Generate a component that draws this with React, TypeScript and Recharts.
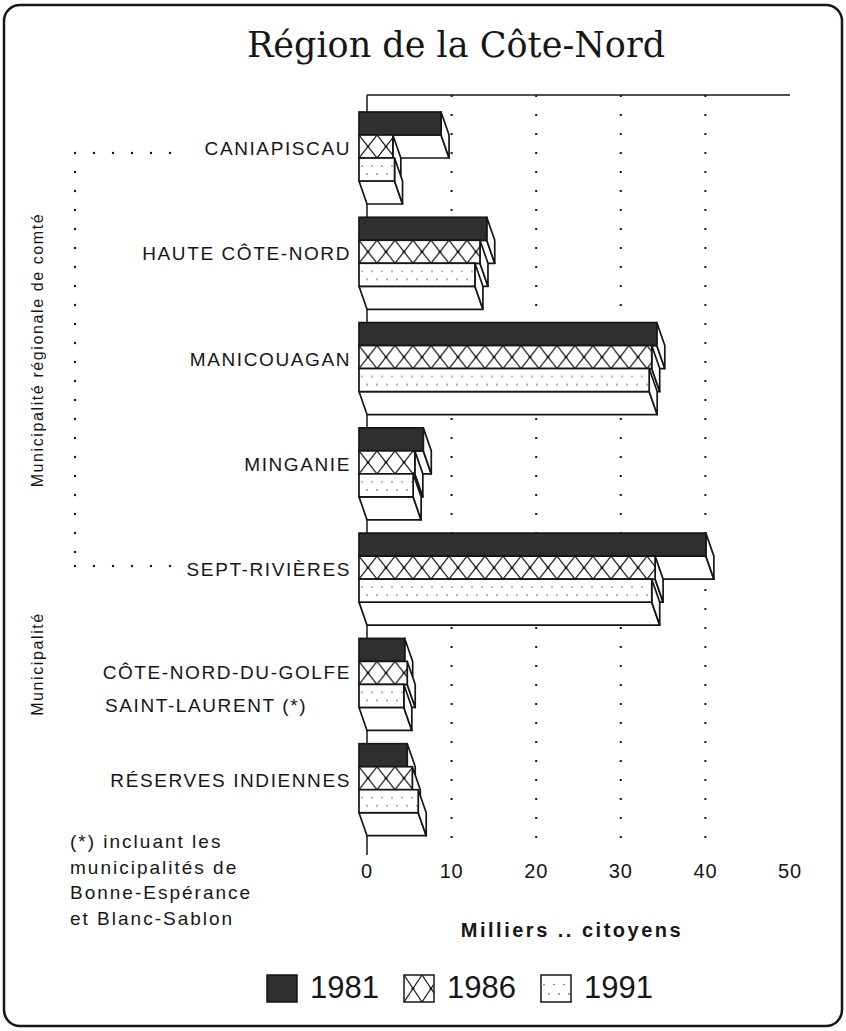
import React from "react";
import { BarChart, Bar, XAxis, YAxis, CartesianGrid } from "recharts";

// Population par MRC / municipalité, en milliers
const categories = [
  "CANIAPISCAU",
  "HAUTE CÔTE-NORD",
  "MANICOUAGAN",
  "MINGANIE",
  "SEPT-RIVIÈRES",
  "CÔTE-NORD-DU-GOLFE\nSAINT-LAURENT (*)",
  "RÉSERVES INDIENNES",
];
const values1981 = [9.7, 15.1, 35.2, 7.6, 41.0, 5.4, 5.7];
const values1986 = [4.0, 14.3, 34.6, 6.6, 35.0, 5.7, 6.3];
const values1991 = [4.2, 13.7, 34.3, 6.4, 34.6, 5.3, 7.0];
const years = ["1981", "1986", "1991"];
const xTicks = [0, 10, 20, 30, 40, 50];
const gridValues = [10, 20, 30, 40];
const footnote = [
  "(*) incluant les",
  "municipalités de",
  "Bonne-Espérance",
  "et Blanc-Sablon",
];

const data = categories.map((name, i) => ({
  name,
  y1981: values1981[i],
  y1986: values1986[i],
  y1991: values1991[i],
}));

const INK = "#161616";
const DARK = "#2f2f2f";
const SANS = '"Liberation Sans", Arial, Helvetica, sans-serif';
// 3D depth of the bars (front face is shifted up-left from the back plane)
const DX = 8;
const DY = 23;

type Kind = "solid" | "cross" | "dots";
const kinds: Kind[] = ["solid", "cross", "dots"];

const patternFor = (kind: Kind, id: string, x: number, y: number, h: number) => {
  if (kind === "cross") {
    return (
      <pattern id={id} x={x} y={y} width={18} height={h} patternUnits="userSpaceOnUse">
        <rect width={18} height={h} fill="#fff" />
        <path d={`M0 0L18 ${h}M18 0L0 ${h}`} stroke={INK} strokeWidth={1.2} />
        <circle cx={9} cy={h / 2} r={1.4} fill={INK} />
        <circle cx={0} cy={h} r={1.3} fill={INK} />
        <circle cx={18} cy={h} r={1.3} fill={INK} />
      </pattern>
    );
  }
  if (kind === "dots") {
    return (
      <pattern id={id} x={x} y={y} width={10} height={h} patternUnits="userSpaceOnUse">
        <rect width={10} height={h} fill="#fff" />
        <circle cx={3} cy={h * 0.35} r={0.8} fill="#555" />
        <circle cx={8} cy={h * 0.7} r={0.8} fill="#555" />
      </pattern>
    );
  }
  return null;
};

const makeBar3D = (kind: Kind) => (props: any) => {
  const { x, y, width, height } = props;
  if (x == null || !width || !height) return <g />;
  const fx = x - DX;
  const fy = y - DY;
  const pid = `pat-${kind}-${Math.round(y)}`;
  const fill = kind === "solid" ? DARK : `url(#${pid})`;
  const w = width;
  const h = height;
  return (
    <g>
      {kind !== "solid" && <defs>{patternFor(kind, pid, fx, fy, h)}</defs>}
      {/* bottom face */}
      <polygon
        points={`${fx},${fy + h} ${fx + w},${fy + h} ${x + w},${y + h} ${x},${y + h}`}
        fill="#fff"
        stroke={INK}
        strokeWidth={1.7}
        strokeLinejoin="round"
      />
      {/* right face */}
      <polygon
        points={`${fx + w},${fy} ${x + w},${y} ${x + w},${y + h} ${fx + w},${fy + h}`}
        fill="#fff"
        stroke={INK}
        strokeWidth={1.7}
        strokeLinejoin="round"
      />
      {/* front face */}
      <rect x={fx} y={fy} width={w} height={h} fill={fill} stroke={INK} strokeWidth={1.7} />
    </g>
  );
};

const CategoryTick = (props: any) => {
  const { x, y, payload } = props;
  const lines = String(payload.value).split("\n");
  const right = x - 8;
  const style = { fontFamily: SANS, fontSize: 19, letterSpacing: "1.6px" };
  if (lines.length === 1) {
    return (
      <text x={right} y={y - 21} textAnchor="end" dominantBaseline="central" fill={INK} style={style}>
        {lines[0]}
      </text>
    );
  }
  return (
    <g>
      <text x={right} y={y - 24} textAnchor="end" dominantBaseline="central" fill={INK} style={style}>
        {lines[0]}
      </text>
      <text x={right - 246} y={y + 9} textAnchor="start" dominantBaseline="central" fill={INK} style={style}>
        {lines[1]}
      </text>
    </g>
  );
};

const ValueTick = (props: any) => {
  const { x, y, payload } = props;
  return (
    <text
      x={x}
      y={y + 8}
      textAnchor="middle"
      dominantBaseline="central"
      fill={INK}
      style={{ fontFamily: SANS, fontSize: 20, letterSpacing: "0.8px" }}
    >
      {payload.value}
    </text>
  );
};

const LegendSwatch = ({ kind }: { kind: Kind }) => (
  <svg width={32} height={29} style={{ display: "block" }}>
    <defs>{patternFor(kind, `leg-${kind}`, 1, 1, 27)}</defs>
    <rect
      x={1}
      y={1}
      width={30}
      height={27}
      fill={kind === "solid" ? DARK : `url(#leg-${kind})`}
      stroke={INK}
      strokeWidth={1.5}
    />
  </svg>
);

export default function App() {
  return (
    <div style={{ position: "relative", width: 846, height: 1031, background: "#fff" }}>
      <style>{"body{margin:0;background:#fff}"}</style>

      {/* frame + dotted bracket */}
      <svg width={846} height={1031} style={{ position: "absolute", left: 0, top: 0 }}>
        <rect x={4} y={5} width={838} height={1021} rx={16} fill="none" stroke={INK} strokeWidth={2.5} />
        <path
          d="M75 153H186M75 153V566M75 566H180"
          fill="none"
          stroke={INK}
          strokeWidth={2.4}
          strokeDasharray="0 19"
          strokeLinecap="round"
        />
      </svg>

      <div style={{ position: "absolute", left: 0, top: 0 }}>
        <BarChart
          width={846}
          height={1031}
          data={data}
          layout="vertical"
          barSize={23}
          barGap={0}
          margin={{ top: 95, right: 56, bottom: 146, left: 7 }}
        >
          {/* dotted value grid */}
          <CartesianGrid
            horizontal={false}
            verticalValues={gridValues}
            stroke={INK}
            strokeWidth={2}
            strokeDasharray="2 17"
          />
          {/* solid back wall edges: left axis and top frame line, kept behind the bars */}
          <CartesianGrid
            verticalValues={[0]}
            horizontalCoordinatesGenerator={({ offset }: any) => [offset.top]}
            stroke={INK}
            strokeWidth={1.5}
          />
          <XAxis
            type="number"
            domain={[0, 50]}
            ticks={xTicks}
            axisLine={false}
            tickLine={false}
            height={30}
            tick={<ValueTick />}
          />
          <YAxis
            type="category"
            dataKey="name"
            width={360}
            interval={0}
            padding={{ top: 22, bottom: 1 }}
            tickLine={false}
            axisLine={false}
            tick={<CategoryTick />}
          />
          {years.map((yr, i) => (
            <Bar
              key={yr}
              dataKey={`y${yr}`}
              name={yr}
              isAnimationActive={false}
              shape={makeBar3D(kinds[i])}
            />
          ))}
        </BarChart>
      </div>

      {/* title */}
      <div
        style={{
          position: "absolute",
          left: 156,
          width: 600,
          top: 25,
          textAlign: "center",
          fontFamily: '"DejaVu Serif", serif',
          fontSize: 35,
          color: INK,
          whiteSpace: "nowrap",
        }}
      >
        Région de la Côte-Nord
      </div>

      {/* rotated group labels */}
      <div
        style={{
          position: "absolute",
          left: 38,
          top: 350,
          transform: "translate(-50%, -50%) rotate(-90deg)",
          fontFamily: SANS,
          fontSize: 16,
          letterSpacing: "1.6px",
          color: INK,
          whiteSpace: "nowrap",
        }}
      >
        Municipalité régionale de comté
      </div>
      <div
        style={{
          position: "absolute",
          left: 38,
          top: 664,
          transform: "translate(-50%, -50%) rotate(-90deg)",
          fontFamily: SANS,
          fontSize: 16,
          letterSpacing: "1.6px",
          color: INK,
          whiteSpace: "nowrap",
        }}
      >
        Municipalité
      </div>

      {/* footnote */}
      <div
        style={{
          position: "absolute",
          left: 70,
          top: 829,
          fontFamily: SANS,
          fontSize: 19,
          lineHeight: "25.5px",
          letterSpacing: "2px",
          color: INK,
          whiteSpace: "nowrap",
        }}
      >
        {footnote.map((l) => (
          <div key={l}>{l}</div>
        ))}
      </div>

      {/* axis title */}
      <div
        style={{
          position: "absolute",
          left: 372,
          width: 400,
          top: 919,
          textAlign: "center",
          fontFamily: SANS,
          fontWeight: "bold",
          fontSize: 20,
          letterSpacing: "2.5px",
          color: INK,
          whiteSpace: "nowrap",
        }}
      >
        Milliers .. citoyens
      </div>

      {/* legend */}
      <div
        style={{
          position: "absolute",
          left: 266,
          top: 970,
          display: "flex",
          alignItems: "center",
          fontFamily: SANS,
          fontSize: 31,
          color: INK,
        }}
      >
        {years.map((yr, i) => (
          <div key={yr} style={{ display: "flex", alignItems: "center", marginRight: 24 }}>
            <LegendSwatch kind={kinds[i]} />
            <span style={{ marginLeft: 12 }}>{yr}</span>
          </div>
        ))}
      </div>
    </div>
  );
}
